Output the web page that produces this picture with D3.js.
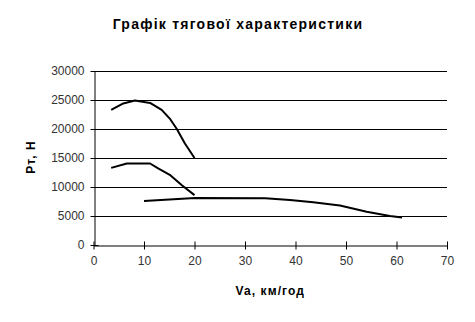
<!DOCTYPE html>
<html>
<head>
<meta charset="utf-8">
<script src="https://cdn.jsdelivr.net/npm/d3@7"></script>
<style>
body { margin: 0; background: #fff; }
text { font-family: "Liberation Sans", Arial, sans-serif; }
</style>
</head>
<body>
<svg id="chart" width="475" height="322"></svg>
<script>
// gear curves: speed (km/h) and traction force (N)
var gear1V = [3.5, 5.9, 8.2, 11.2, 13.5, 15.1, 16.5, 18.1, 20.0];
var gear1P = [23300, 24400, 24900, 24500, 23300, 21800, 20000, 17500, 15000];
var gear2V = [3.5, 6.6, 11.2, 12.8, 15.1, 17.5, 20.0];
var gear2P = [13300, 14050, 14050, 13200, 12100, 10300, 8600];
var gear3V = [10.0, 20.1, 34.0, 38.9, 43.5, 48.8, 54.1, 58.7, 61.1];
var gear3P = [7600, 8100, 8050, 7750, 7350, 6800, 5750, 5000, 4750];

var xTicks = [0, 10, 20, 30, 40, 50, 60, 70];
var yTicks = [0, 5000, 10000, 15000, 20000, 25000, 30000];

var title = "Графік тягової характеристики";
var xTitle = "Va, км/год";
var yTitle = "Рт, Н";

var svg = d3.select("#chart");
var plotL = 93.5, plotR = 447, plotT = 71, plotB = 245;

var x = d3.scaleLinear().domain([0, 70]).range([plotL, plotR]);
var y = d3.scaleLinear().domain([0, 30000]).range([plotB, plotT]);

// horizontal gridlines
svg.append("g")
    .selectAll("line")
    .data(yTicks.slice(1))
    .enter().append("line")
    .attr("x1", plotL).attr("x2", plotR)
    .attr("y1", function(d) { return Math.round(y(d)) + 0.5; })
    .attr("y2", function(d) { return Math.round(y(d)) + 0.5; })
    .attr("stroke", "#000")
    .attr("stroke-width", 1);

// axes, cross ticks
var xAxis = svg.append("g")
    .attr("transform", "translate(0," + (Math.round(plotB) + 0.5) + ")")
    .call(d3.axisBottom(x).tickValues(xTicks).tickSizeInner(4).tickSizeOuter(0).tickPadding(8));
xAxis.selectAll(".tick line").attr("y1", -4).attr("y2", 4);

var yAxis = svg.append("g")
    .attr("transform", "translate(" + (Math.round(plotL) + 0.5) + ",0)")
    .call(d3.axisLeft(y).tickValues(yTicks).tickSizeInner(4).tickSizeOuter(0).tickPadding(6)
        .tickFormat(d3.format("d")));
yAxis.selectAll(".tick line").attr("x1", -4).attr("x2", 4);

svg.selectAll(".domain").attr("stroke", "#000");
svg.selectAll(".tick line").attr("stroke", "#000");
svg.selectAll(".tick text")
    .attr("fill", "#333")
    .style("font-size", "12px")
    .style("font-family", "'Liberation Sans', Arial, sans-serif");
xAxis.selectAll(".tick text").attr("dy", "0.6em");

// curves
var line = d3.line()
    .x(function(d) { return x(d[0]); })
    .y(function(d) { return y(d[1]); });

var series = [
    d3.zip(gear1V, gear1P),
    d3.zip(gear2V, gear2P),
    d3.zip(gear3V, gear3P)
];

svg.append("g")
    .selectAll("path")
    .data(series)
    .enter().append("path")
    .attr("d", line)
    .attr("fill", "none")
    .attr("stroke", "#000")
    .attr("stroke-width", 2)
    .attr("stroke-linejoin", "round");

// titles
svg.append("text")
    .attr("x", 238).attr("y", 29)
    .attr("text-anchor", "middle")
    .style("font-size", "14px")
    .style("font-weight", "bold")
    .style("letter-spacing", "1.25px")
    .text(title);

svg.append("text")
    .attr("x", (plotL + plotR) / 2).attr("y", 295)
    .attr("text-anchor", "middle")
    .style("font-size", "12px")
    .style("font-weight", "bold")
    .style("letter-spacing", "1.1px")
    .text(xTitle);

svg.append("text")
    .attr("transform", "translate(35,157) rotate(-90)")
    .attr("text-anchor", "middle")
    .style("font-size", "12px")
    .style("font-weight", "bold")
    .style("letter-spacing", "1px")
    .text(yTitle);
</script>
</body>
</html>
